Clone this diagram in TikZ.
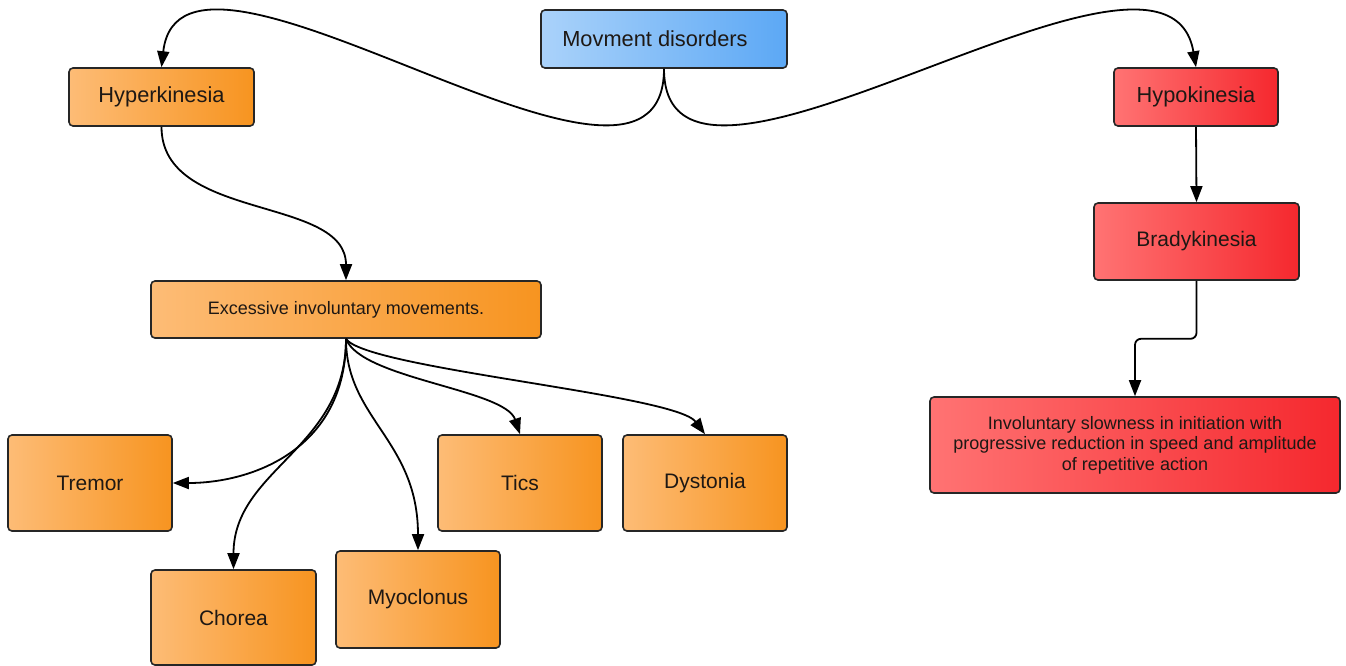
\documentclass[tikz,border=0pt]{standalone}
\usepackage{fontspec}
\setmainfont{Liberation Sans}
\usetikzlibrary{arrows.meta}
\definecolor{orL}{RGB}{253,188,118}
\definecolor{orD}{RGB}{247,148,32}
\definecolor{blL}{RGB}{170,210,250}
\definecolor{blD}{RGB}{92,168,245}
\definecolor{rdL}{RGB}{255,115,115}
\definecolor{rdD}{RGB}{245,40,46}
\definecolor{txt}{RGB}{30,24,20}
\begin{document}
\begin{tikzpicture}[x=1pt,y=-1pt,
  box/.style={draw=black!85, line width=1.6pt, rounded corners=4pt, inner sep=0pt,
    align=center, text=txt, font=\fontsize{21}{24}\selectfont},
  bigbox/.style={box, font=\fontsize{21.8}{25}\selectfont},
  smallbox/.style={box, font=\fontsize{18}{20.5}\selectfont},
  orangebox/.style={left color=orL, right color=orD},
  bluebox/.style={left color=blL, right color=blD},
  redbox/.style={left color=rdL, right color=rdD},
  arr/.style={draw=black, line width=1.8pt, -{Triangle[length=16pt,width=12pt]}}]
\fill[white] (0,0) rectangle (1346,665);
\useasboundingbox (0,0) rectangle (1346,665);

\node[bigbox, bluebox, minimum width=246pt, minimum height=58pt] (md) at (664,39) {Movment disorders\hspace*{18pt}};
\node[bigbox, orangebox, minimum width=185pt, minimum height=58pt] (hyper) at (161.5,97) {Hyperkinesia};
\node[bigbox, redbox, minimum width=164pt, minimum height=58pt] (hypo) at (1196,97) {Hypokinesia};
\node[box, redbox, minimum width=205pt, minimum height=77pt] (brady) at (1196.5,241.5) {Bradykinesia};
\node[smallbox, redbox, minimum width=410pt, minimum height=96pt] (inv) at (1135,445)
  {Involuntary slowness in initiation with\\progressive reduction in speed and amplitude\\of repetitive action};
\node[smallbox, orangebox, minimum width=390pt, minimum height=57pt] (exc) at (346,309.5) {Excessive involuntary movements.};
\node[box, orangebox, minimum width=164pt, minimum height=96pt] (tremor) at (90,483) {Tremor};
\node[box, orangebox, minimum width=165pt, minimum height=95pt] (chorea) at (233.5,617.5) {Chorea};
\node[box, orangebox, minimum width=164pt, minimum height=97pt] (myo) at (418,599.5) {Myoclonus};
\node[box, orangebox, minimum width=164pt, minimum height=96pt] (tics) at (520,483) {Tics};
\node[box, orangebox, minimum width=164pt, minimum height=96pt] (dyst) at (705,483) {Dystonia};

\draw[arr] (md.south) .. controls +(0,192) and +(20,-178) .. (hyper.north);
\draw[arr] (md.south) .. controls +(0,192) and +(-30,-178) .. (hypo.north);
\draw[arr] (hyper.south) .. controls +(0,95) and +(0,-85) .. (exc.north);
\draw[arr] (hypo.south) -- (brady.north);
\draw[arr, rounded corners=6pt] (brady.south) -- ++(0,58) -| (inv.north);
\draw[arr] (exc.south) .. controls +(0,110) and +(80,0) .. (tremor.east);
\draw[arr] (exc.south) .. controls +(0,110) and +(0,-100) .. (chorea.north);
\draw[arr] (exc.south) .. controls +(0,80) and +(0,-110) .. (myo.north);
\draw[arr] (exc.south) .. controls +(15,40) and +(-15,-45) .. (tics.north);
\draw[arr] (exc.south) .. controls +(20,30) and +(-30,-40) .. (dyst.north);
\end{tikzpicture}
\end{document}
